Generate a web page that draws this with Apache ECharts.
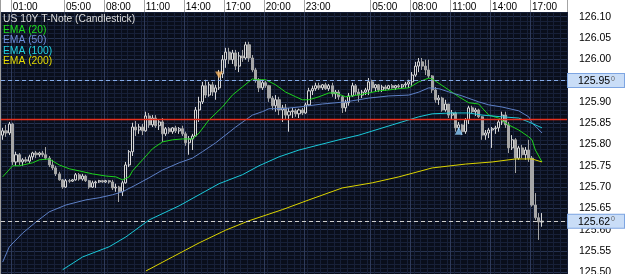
<!DOCTYPE html>
<html>
<head>
<meta charset="utf-8">
<script src="https://cdn.jsdelivr.net/npm/echarts@6/dist/echarts.min.js"></script>
<style>
html, body { margin: 0; padding: 0; background: #fff; }
#chart { width: 624px; height: 274px; border-left: 1px solid #9c9c9c; }
</style>
</head>
<body>
<div id="chart"></div>
<script>
// 15 minute bars, two sessions
var categories = [];
(function () {
	function pad(n) { return (n < 10 ? '0' : '') + n; }
	for (var m = 15; m < 24 * 60; m += 15) {
		categories.push('D1 ' + pad(Math.floor(m / 60)) + ':' + pad(m % 60));
	}
	for (var m2 = 60; categories.length < 170; m2 += 15) {
		categories.push('D2 ' + pad(Math.floor(m2 / 60)) + ':' + pad(m2 % 60));
	}
})();

var tickLabels = ['D1 01:00', 'D1 05:00', 'D1 08:00', 'D1 11:00', 'D1 14:00', 'D1 17:00', 'D1 20:00', 'D1 23:00',
	'D2 05:00', 'D2 08:00', 'D2 11:00', 'D2 14:00', 'D2 17:00'];

// [open, close, low, high]
var candles = [
	[125.822, 125.832, 125.811, 125.839], [125.832, 125.827, 125.818, 125.846], [125.827, 125.848, 125.822, 125.853],
	[125.848, 125.759, 125.752, 125.851], [125.759, 125.776, 125.750, 125.783], [125.776, 125.759, 125.752, 125.780],
	[125.759, 125.764, 125.750, 125.768], [125.764, 125.761, 125.757, 125.771], [125.761, 125.771, 125.757, 125.776],
	[125.771, 125.780, 125.764, 125.783], [125.780, 125.776, 125.768, 125.785], [125.776, 125.780, 125.771, 125.783],
	[125.780, 125.776, 125.771, 125.785], [125.776, 125.768, 125.764, 125.794], [125.768, 125.752, 125.747, 125.773],
	[125.752, 125.745, 125.740, 125.764], [125.745, 125.731, 125.726, 125.750], [125.731, 125.717, 125.715, 125.736],
	[125.717, 125.700, 125.696, 125.719], [125.700, 125.715, 125.698, 125.719], [125.715, 125.714, 125.710, 125.719],
	[125.714, 125.717, 125.712, 125.719], [125.717, 125.729, 125.715, 125.733], [125.729, 125.719, 125.715, 125.733],
	[125.719, 125.726, 125.715, 125.731], [125.726, 125.715, 125.712, 125.729], [125.715, 125.700, 125.696, 125.717],
	[125.700, 125.710, 125.698, 125.715], [125.710, 125.712, 125.698, 125.715], [125.712, 125.715, 125.710, 125.717],
	[125.715, 125.712, 125.710, 125.717], [125.712, 125.715, 125.710, 125.717], [125.715, 125.712, 125.708, 125.717],
	[125.712, 125.698, 125.693, 125.717], [125.698, 125.700, 125.689, 125.708], [125.700, 125.689, 125.665, 125.703],
	[125.689, 125.710, 125.679, 125.715], [125.710, 125.752, 125.708, 125.759], [125.752, 125.783, 125.747, 125.787],
	[125.783, 125.841, 125.773, 125.851], [125.841, 125.834, 125.820, 125.855], [125.834, 125.841, 125.825, 125.848],
	[125.841, 125.832, 125.822, 125.848], [125.832, 125.867, 125.830, 125.877], [125.867, 125.846, 125.839, 125.874],
	[125.846, 125.862, 125.841, 125.869], [125.862, 125.844, 125.839, 125.869], [125.844, 125.853, 125.834, 125.858],
	[125.853, 125.825, 125.806, 125.862], [125.825, 125.837, 125.820, 125.841], [125.837, 125.830, 125.825, 125.841],
	[125.830, 125.839, 125.825, 125.841], [125.839, 125.832, 125.827, 125.844], [125.832, 125.837, 125.825, 125.841],
	[125.837, 125.825, 125.820, 125.844], [125.825, 125.804, 125.797, 125.830], [125.804, 125.813, 125.776, 125.820],
	[125.813, 125.820, 125.787, 125.825], [125.820, 125.881, 125.818, 125.888], [125.881, 125.900, 125.853, 125.912],
	[125.900, 125.938, 125.895, 125.947], [125.938, 125.916, 125.909, 125.952], [125.916, 125.940, 125.912, 125.947],
	[125.940, 125.923, 125.914, 125.947], [125.923, 125.933, 125.905, 125.940], [125.933, 125.966, 125.928, 125.975],
	[125.966, 125.999, 125.956, 126.010], [125.999, 126.017, 125.980, 126.027], [126.017, 125.999, 125.989, 126.027],
	[125.999, 126.015, 125.989, 126.022], [126.015, 125.984, 125.975, 126.022], [125.984, 126.008, 125.970, 126.017],
	[126.008, 126.003, 125.994, 126.022], [126.003, 126.034, 125.999, 126.041], [126.034, 126.003, 125.994, 126.041],
	[126.003, 125.975, 125.970, 126.010], [125.975, 125.952, 125.945, 125.980], [125.952, 125.933, 125.923, 125.956],
	[125.933, 125.945, 125.928, 125.952], [125.945, 125.938, 125.933, 125.949], [125.938, 125.909, 125.900, 125.940],
	[125.909, 125.891, 125.881, 125.914], [125.891, 125.905, 125.877, 125.916], [125.905, 125.881, 125.869, 125.912],
	[125.881, 125.886, 125.853, 125.893], [125.886, 125.869, 125.858, 125.895], [125.869, 125.877, 125.830, 125.886],
	[125.877, 125.879, 125.862, 125.886], [125.879, 125.872, 125.865, 125.884], [125.872, 125.881, 125.862, 125.884],
	[125.881, 125.874, 125.869, 125.886], [125.874, 125.893, 125.872, 125.898], [125.893, 125.926, 125.891, 125.933],
	[125.926, 125.931, 125.916, 125.938], [125.931, 125.938, 125.926, 125.945], [125.938, 125.933, 125.928, 125.945],
	[125.933, 125.940, 125.928, 125.942], [125.940, 125.931, 125.928, 125.945], [125.931, 125.938, 125.926, 125.942],
	[125.938, 125.919, 125.912, 125.945], [125.919, 125.923, 125.907, 125.928], [125.923, 125.912, 125.905, 125.928],
	[125.912, 125.886, 125.874, 125.914], [125.886, 125.898, 125.877, 125.905], [125.898, 125.914, 125.891, 125.921],
	[125.914, 125.938, 125.912, 125.945], [125.938, 125.923, 125.916, 125.942], [125.923, 125.916, 125.900, 125.931],
	[125.916, 125.923, 125.909, 125.928], [125.923, 125.928, 125.916, 125.933], [125.928, 125.947, 125.916, 125.956],
	[125.947, 125.933, 125.923, 125.952], [125.933, 125.940, 125.923, 125.942], [125.940, 125.928, 125.923, 125.942],
	[125.928, 125.935, 125.923, 125.940], [125.935, 125.931, 125.926, 125.940], [125.931, 125.938, 125.928, 125.940],
	[125.938, 125.933, 125.931, 125.942], [125.933, 125.938, 125.928, 125.940], [125.938, 125.935, 125.931, 125.942],
	[125.935, 125.940, 125.931, 125.942], [125.940, 125.942, 125.933, 125.947], [125.942, 125.947, 125.933, 125.952],
	[125.947, 125.963, 125.938, 125.970], [125.963, 125.984, 125.959, 125.994], [125.984, 125.994, 125.970, 126.003],
	[125.994, 125.984, 125.975, 126.003], [125.984, 125.975, 125.963, 125.999], [125.975, 125.961, 125.956, 125.999],
	[125.961, 125.928, 125.921, 125.963], [125.928, 125.905, 125.898, 125.935], [125.905, 125.909, 125.893, 125.916],
	[125.909, 125.881, 125.877, 125.912], [125.881, 125.895, 125.877, 125.905], [125.895, 125.869, 125.862, 125.895],
	[125.869, 125.874, 125.858, 125.881], [125.874, 125.839, 125.830, 125.877], [125.839, 125.846, 125.834, 125.853],
	[125.846, 125.830, 125.822, 125.848], [125.830, 125.858, 125.825, 125.862], [125.858, 125.886, 125.848, 125.891],
	[125.886, 125.877, 125.872, 125.891], [125.877, 125.881, 125.867, 125.886], [125.881, 125.865, 125.862, 125.884],
	[125.865, 125.822, 125.811, 125.867], [125.822, 125.827, 125.811, 125.834], [125.827, 125.834, 125.815, 125.839],
	[125.834, 125.837, 125.792, 125.841], [125.837, 125.839, 125.825, 125.844], [125.839, 125.853, 125.830, 125.858],
	[125.853, 125.869, 125.846, 125.877], [125.869, 125.846, 125.839, 125.877], [125.846, 125.792, 125.780, 125.853],
	[125.792, 125.811, 125.787, 125.822], [125.811, 125.768, 125.733, 125.815], [125.768, 125.792, 125.764, 125.797],
	[125.792, 125.776, 125.768, 125.799], [125.776, 125.787, 125.764, 125.794], [125.787, 125.768, 125.759, 125.811],
	[125.768, 125.658, 125.654, 125.773], [125.658, 125.628, 125.623, 125.686], [125.628, 125.618, 125.576, 125.639],
	[125.618, 125.620, 125.607, 125.639]
];

// [bar index, value]
var ema20 = [[0, 125.724], [3, 125.750], [5, 125.750], [9, 125.757], [11, 125.764], [14, 125.766], [17, 125.752],
	[20, 125.743], [23, 125.738], [27, 125.731], [31, 125.726], [34, 125.724], [36, 125.717], [38, 125.724],
	[39, 125.738], [42, 125.764], [45, 125.790], [48, 125.806], [51, 125.811], [54, 125.813], [57, 125.813],
	[59, 125.827], [62, 125.858], [66, 125.888], [69, 125.916], [72, 125.935], [75, 125.954], [76, 125.952],
	[79, 125.952], [82, 125.940], [85, 125.923], [88, 125.912], [90, 125.905], [92, 125.905], [95, 125.912],
	[98, 125.921], [100, 125.921], [103, 125.912], [105, 125.914], [110, 125.921], [113, 125.926], [116, 125.928],
	[119, 125.931], [122, 125.933], [125, 125.947], [128, 125.956], [129, 125.954], [134, 125.928], [137, 125.912],
	[140, 125.898], [143, 125.895], [144, 125.886], [146, 125.869], [149, 125.862], [152, 125.846], [155, 125.834],
	[158, 125.818], [159, 125.811], [160, 125.787], [162, 125.759]];
var ema50 = [[0, 125.524], [2, 125.560], [6, 125.592], [10, 125.618], [14, 125.642], [19, 125.658], [25, 125.670],
	[29, 125.675], [33, 125.682], [36, 125.689], [40, 125.705], [44, 125.722], [48, 125.740], [53, 125.757],
	[57, 125.768], [60, 125.783], [64, 125.804], [70, 125.841], [75, 125.869], [78, 125.877], [80, 125.884],
	[84, 125.884], [89, 125.888], [96, 125.895], [103, 125.900], [110, 125.909], [116, 125.914], [122, 125.916],
	[125, 125.923], [128, 125.933], [131, 125.931], [135, 125.921], [138, 125.914], [143, 125.900], [146, 125.893],
	[150, 125.888], [155, 125.879], [158, 125.865], [159, 125.851], [162, 125.827]];
var ema100 = [[18, 125.506], [24, 125.536], [32, 125.560], [37, 125.583], [44, 125.623], [53, 125.656],
	[59, 125.682], [65, 125.708], [72, 125.729], [77, 125.750], [83, 125.771], [89, 125.787], [95, 125.799],
	[101, 125.811], [107, 125.822], [117, 125.846], [125, 125.865], [129, 125.872], [135, 125.874], [140, 125.874],
	[144, 125.869], [150, 125.865], [155, 125.862], [158, 125.853], [162, 125.839]];
var ema200 = [[43, 125.503], [51, 125.536], [59, 125.569], [67, 125.599], [74, 125.621], [84, 125.647],
	[92, 125.670], [102, 125.698], [111, 125.710], [119, 125.724], [129, 125.745], [139, 125.754], [147, 125.759],
	[154, 125.766], [159, 125.766], [162, 125.759]];

var sellSignals = [[65, 125.963]];
var buySignals = [[137, 125.832]];
var signalLevel = 125.953;
var redLevel = 125.855;
var lastClose = candles[candles.length - 1][1];

var FONT = 'Liberation Sans, Arial, sans-serif';

function isTick(idx, val) {
	return tickLabels.indexOf(val) >= 0;
}

function priceTag(p) {
	var s = Number(p.value).toFixed(3);
	return '{v|' + s.slice(0, -1) + '}{s|' + s.slice(-1) + '}';
}

function tagLabel() {
	return {
		show: true,
		position: 'end',
		distance: 1,
		formatter: priceTag,
		backgroundColor: '#c9ddf7',
		borderColor: '#7da5e2',
		borderWidth: 1,
		padding: [1, 0, 0, 10],
		width: 46,
		align: 'left',
		rich: {
			v: { fontSize: 10.5, color: '#000', fontFamily: FONT, lineHeight: 12 },
			s: { fontSize: 7, color: '#666', fontFamily: FONT, verticalAlign: 'top', lineHeight: 8, padding: [0, 0, 0, 1] }
		}
	};
}

var chart = echarts.init(document.getElementById('chart'));
var option = {
	animation: false,
	backgroundColor: '#ffffff',
	title: {
		left: 2,
		top: 14,
		padding: 0,
		text: '{t|US 10Y T-Note (Candlestick)}\n{a|EMA (20)}\n{b|EMA (50)}\n{c|EMA (100)}\n{d|EMA (200)}',
		textStyle: {
			fontSize: 10.3,
			fontFamily: FONT,
			fontWeight: 'normal',
			lineHeight: 10.5,
			rich: {
				t: { color: '#dcdcdc', fontSize: 10.3, fontFamily: FONT, lineHeight: 10.5 },
				a: { color: '#1ee01e', fontSize: 10.3, fontFamily: FONT, lineHeight: 10.5 },
				b: { color: '#6f8fdc', fontSize: 10.3, fontFamily: FONT, lineHeight: 10.5 },
				c: { color: '#22d2e2', fontSize: 10.3, fontFamily: FONT, lineHeight: 10.5 },
				d: { color: '#e6dc00', fontSize: 10.3, fontFamily: FONT, lineHeight: 10.5 }
			}
		}
	},
	grid: {
		left: 0,
		right: 58,
		top: 12,
		bottom: 0,
		show: true,
		backgroundColor: '#090e1b',
		borderWidth: 0,
		outerBoundsMode: 'none'
	},
	xAxis: [{
		type: 'category',
		data: categories,
		position: 'top',
		boundaryGap: true,
		axisLine: { show: false },
		axisTick: { show: true, length: 12, interval: isTick, lineStyle: { color: '#a4a4a4' } },
		axisLabel: {
			interval: isTick,
			formatter: function (v) { return v.slice(3); },
			align: 'left',
			margin: 0,
			color: '#000',
			fontSize: 10,
			fontFamily: FONT
		},
		splitLine: { show: true, interval: isTick, lineStyle: { color: '#2e3a5a' } }
	}, {
		type: 'category',
		data: categories,
		position: 'bottom',
		axisLine: { show: false },
		axisTick: { show: false },
		axisLabel: { show: false },
		splitLine: { show: true, interval: 1, lineStyle: { color: '#172038' } }
	}],
	yAxis: {
		type: 'value',
		position: 'right',
		min: 125.496,
		max: 126.111,
		splitNumber: 12,
		minInterval: 0.05,
		maxInterval: 0.05,
		axisLine: { show: false },
		axisTick: { show: false },
		axisLabel: {
			color: '#000',
			fontSize: 10.5,
			fontFamily: FONT,
			align: 'left',
			margin: 12,
			showMinLabel: false,
			showMaxLabel: false,
			formatter: function (v) { return v.toFixed(2); }
		},
		splitLine: { show: true, lineStyle: { color: '#26324f' } },
		minorTick: { show: false, splitNumber: 5 },
		minorSplitLine: { show: true, lineStyle: { color: '#172038' } }
	},
	series: [{
		name: 'US 10Y T-Note (Candlestick)',
		type: 'candlestick',
		data: candles,
		barWidth: 2.6,
		itemStyle: {
			color: '#0a0f1d',
			color0: '#a6a6a6',
			borderColor: '#d6d6d6',
			borderColor0: '#a6a6a6',
			borderWidth: 1
		},
		markLine: {
			silent: true,
			symbol: ['none', 'none'],
			animation: false,
			data: [
				{ yAxis: signalLevel, lineStyle: { color: '#86acea', type: [4, 3], width: 1 }, label: tagLabel() },
				{ yAxis: lastClose, lineStyle: { color: '#d0d0d0', type: [4, 3], width: 1 }, label: tagLabel() }
			]
		}
	}, {
		name: 'EMA (20)', type: 'line', data: ema20, symbol: 'none', z: 3,
		lineStyle: { color: '#1cd21c', width: 1 }
	}, {
		name: 'EMA (50)', type: 'line', data: ema50, symbol: 'none', z: 3,
		lineStyle: { color: '#5d80c6', width: 1 }
	}, {
		name: 'EMA (100)', type: 'line', data: ema100, symbol: 'none', z: 3,
		lineStyle: { color: '#1ac8d8', width: 1 }
	}, {
		name: 'EMA (200)', type: 'line', data: ema200, symbol: 'none', z: 3,
		lineStyle: { color: '#dcd400', width: 1 },
		markLine: {
			silent: true,
			symbol: ['none', 'none'],
			animation: false,
			label: { show: false },
			lineStyle: { color: '#e8301e', type: 'solid', width: 1.4, opacity: 1 },
			data: [{ yAxis: redLevel }]
		}
	}, {
		type: 'scatter', data: sellSignals, symbol: 'triangle', symbolRotate: 180, symbolSize: [8, 7], z: 5,
		itemStyle: { color: '#f6b460' }
	}, {
		type: 'scatter', data: buySignals, symbol: 'triangle', symbolSize: [8, 8], z: 5,
		itemStyle: { color: '#8fd0ff' }
	}]
};
chart.setOption(option);
</script>
</body>
</html>
